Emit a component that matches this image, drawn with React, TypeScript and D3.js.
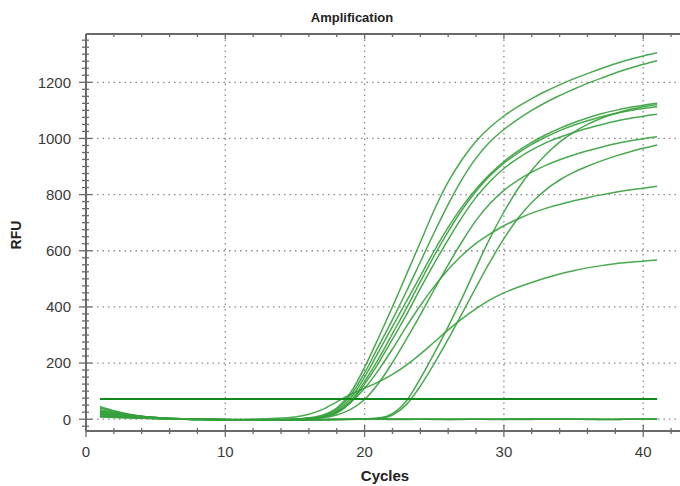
import React from 'react';
import * as d3 from 'd3';

// Cycle numbers (x categories)
const cycles = [1,2,3,4,5,6,7,8,9,10,11,12,13,14,15,16,17,18,19,20,21,22,23,24,25,26,27,28,29,30,31,32,33,34,35,36,37,38,39,40,41];
const xMajorTicks = [0, 10, 20, 30, 40];
const yMajorTicks = [0, 200, 400, 600, 800, 1000, 1200];
const thresholdRFU = 72;

// RFU per cycle, amplifying wells
const wellA = [35,24,16,10,6,3,1,0,-1,-2,-2,-3,-3,-2,0, 5,15,40,95,185,290,400,515,630,745, 845,925,990,1040,1080,1113,1142,1168,1191,1212, 1231,1249,1266,1281,1294,1305];
const wellB = [28,19,13,8,5,2,1,0,-1,-1,-2,-2,-2,-2,0, 3,12,35,85,165,260,355,455,560,665, 765,855,930,988,1032,1068,1100,1128,1153,1175, 1196,1215,1233,1249,1264,1277];
const wellC = [22,15,10,7,4,2,0,-1,-1,-2,-2,-2,-2,-1,0, 3,10,30,75,150,240,330,420,510,600, 683,757,820,873,918,955,986,1013,1036,1056, 1073,1088,1100,1110,1118,1125];
const wellE = [18,13,9,6,3,1,0,-1,-1,-2,-2,-3,-3,-2,-1, 2,8,25,65,135,215,305,395,490,583, 668,746,812,867,912,948,979,1005,1028,1047, 1063,1077,1089,1099,1107,1113];
const wellF = [40,28,18,11,6,3,1,0,-1,-2,-2,-2,-3,-3,-1, 2,7,22,60,125,200,285,372,465,555, 640,720,790,847,893,929,959,984,1004,1021, 1036,1049,1061,1071,1079,1086];
const wellG = [25,17,11,7,4,2,0,-1,-1,-2,-2,-2,-2,-2,-1, 1,5,15,35,70,128,202,285,372,462, 550,633,708,768,815,851,880,904,924,941, 956,969,981,991,999,1006];
const wellI = [15,11,8,5,3,1,0,0,-1,-1,-2,-2,-2,-1,0, 3,8,25,60,110,175,250,330,405,473, 533,584,626,660,689,713,734,751,765,778, 789,799,808,816,823,830];
const wellJ = [10,8,6,4,2,1,0,0,-1,-1,-1,0,2,4,8, 18,35,62,88,110,133,160,193,232,275, 318,358,394,425,450,470,487,503,517,529, 539,547,554,559,563,567];
const wellD = [20,14,9,6,3,1,0,-1,-1,-2,-2,-2,-3,-3,-3,-2,-2,-1,0,1,4, 20,65,145,235,330,432,540,645,738,820, 887,942,987,1022,1050,1072,1089,1103,1113,1120];
const wellH = [8,6,4,3,2,1,0,-1,-1,-1,-2,-2,-2,-2,-2,-1,-1,0,0,1,3, 15,52,118,198,285,377,470,560,643,715, 772,817,852,879,901,920,937,952,965,977];

// Non-amplifying wells
const wellN1 = [30,22,15,10,6,3,1,0,-1,-1,-2,-2,-2,-3,-3,-3,-2,-2,-1,0,1,1,0,0,-1,-1,0,1,1,0,-1,-1,0,0,1,1,0,-1,0,1,0];
const wellN2 = [12,9,7,5,3,2,1,0,0,-1,-1,-1,-2,-2,-2,-1,-1,0,1,2,2,1,1,0,0,-1,-1,0,0,1,2,2,1,0,0,-1,-1,0,1,1,1];
const wellN3 = [45,30,19,11,6,2,0,-1,-2,-2,-3,-3,-4,-4,-4,-3,-2,-1,0,1,0,-1,-1,0,1,1,0,0,-1,-1,0,1,2,2,1,0,-1,-1,0,1,1];

const allWells = [wellN1, wellN2, wellN3, wellA, wellB, wellC, wellE, wellF, wellG, wellI, wellJ, wellD, wellH];

const FONT = '"Liberation Sans", Arial, Helvetica, sans-serif';

export default function App() {
  const W = 680, H = 486;
  const left = 86, right = 685, top = 34, bottom = 431;
  const x = d3.scaleLinear().domain([0, 43]).range([left, right]);
  const y = d3.scaleLinear().domain([-42, 1372]).range([bottom, top]);

  const line = d3.line<number>()
    .x((_, i) => x(cycles[i]))
    .y(d => y(d))
    .curve(d3.curveMonotoneX);

  const xMinor = d3.range(0, 44, 2);
  const yMinor = d3.range(-25, 1372, 25);
  const axisColor = '#6a6a6a';
  const textColor = '#3a3a3a';

  return (
    <svg width={W} height={H} style={{ position: 'absolute', left: 0, top: 0, background: '#fff' }}
      fontFamily={FONT}>
      <rect x={0} y={0} width={W} height={H} fill="#fff" />
      {yMajorTicks.map(t => (
        <line key={'gy' + t} x1={left} x2={right} y1={y(t)} y2={y(t)}
          stroke="#8a8a8a" strokeWidth={1.3} strokeDasharray="1.5,4" />
      ))}
      {xMajorTicks.filter(t => t > 0).map(t => (
        <line key={'gx' + t} x1={x(t)} x2={x(t)} y1={top} y2={bottom}
          stroke="#8a8a8a" strokeWidth={1.3} strokeDasharray="1.5,4" />
      ))}
      <g fill="none">
        {allWells.map((w, i) => (
          <path key={'w' + i} d={line(w) || ''} stroke="#35a03c" strokeWidth={1.5} strokeOpacity={0.9} />
        ))}
        <line x1={x(1)} x2={x(41)} y1={y(thresholdRFU)} y2={y(thresholdRFU)} stroke="#118a1c" strokeWidth={2.2} />
      </g>
      <line x1={left} x2={right} y1={top} y2={top} stroke={axisColor} strokeWidth={2} />
      <line x1={left} x2={left} y1={top} y2={bottom} stroke={axisColor} strokeWidth={2} />
      <line x1={left} x2={right} y1={bottom} y2={bottom} stroke={axisColor} strokeWidth={2} />
      {xMinor.map(t => {
        const major = t % 10 === 0;
        return (
          <g key={'xt' + t}>
            <line x1={x(t)} x2={x(t)} y1={bottom - (major ? 6 : 3)} y2={bottom + (major ? 6 : 3)} stroke={axisColor} strokeWidth={1.3} />
            <line x1={x(t)} x2={x(t)} y1={top} y2={top + (major ? 5 : 3)} stroke={axisColor} strokeWidth={1.3} />
          </g>
        );
      })}
      {yMinor.map(t => {
        const major = t % 200 === 0;
        return (
          <line key={'yt' + t} x1={left - (major ? 7 : 4)} x2={left + (major ? 6 : 3)} y1={y(t)} y2={y(t)} stroke={axisColor} strokeWidth={1.3} />
        );
      })}
      {xMajorTicks.map(t => (
        <text key={'xl' + t} x={x(t)} y={457} textAnchor="middle" fontSize={15} fill={textColor}>{t}</text>
      ))}
      {yMajorTicks.map(t => (
        <text key={'yl' + t} x={71} y={y(t)} dy="0.36em" textAnchor="end" fontSize={15} fill={textColor}>{t}</text>
      ))}
      <text x={352} y={21.5} textAnchor="middle" fontSize={13} fontWeight="bold" fill="#222">Amplification</text>
      <text x={385} y={481} textAnchor="middle" fontSize={15} fontWeight="bold" fill="#222">Cycles</text>
      <text transform={`translate(21,235) rotate(-90)`} textAnchor="middle" fontSize={14} fontWeight="bold" fill="#222">RFU</text>
    </svg>
  );
}
